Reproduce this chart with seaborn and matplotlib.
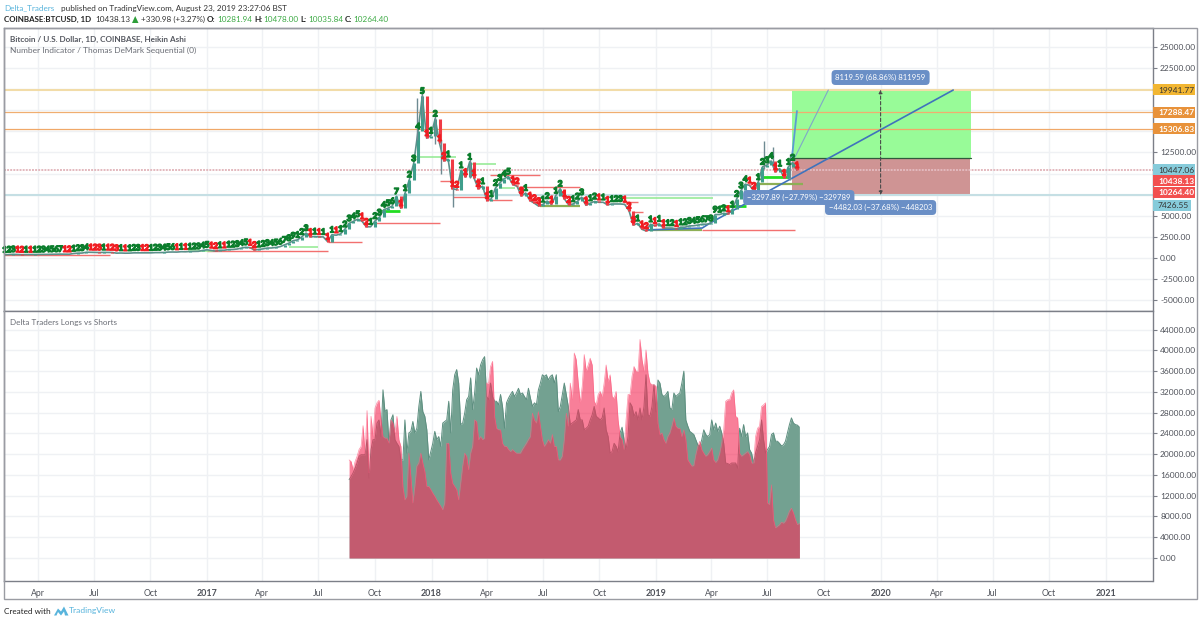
import matplotlib
matplotlib.use("Agg")
import matplotlib.pyplot as plt
import matplotlib.dates as mdates
import matplotlib.patheffects as pe
from matplotlib.patches import Rectangle, Polygon
import numpy as np
import pandas as pd
import seaborn as sns

# Weekly BTCUSD closes, Feb 2016 to Aug 2019
price_close = [
    375, 405, 438, 420, 395, 412, 408, 416, 417, 425, 430, 445, 450, 460, 455, 445, 530,
    575, 585, 685, 670, 660, 650, 665, 660, 650, 575, 590, 570, 575, 610, 610, 605, 600,
    610, 640, 640, 655, 700, 710, 700, 745, 735, 770, 775, 790, 900,
    970, 900, 820, 920, 915, 1010, 1010, 1060, 1180, 1270, 1230, 950, 1020,
    1080, 1180, 1190, 1250, 1350, 1560, 1760, 2050, 2150, 2500, 2950, 2500, 2550,
    2500, 2500, 1950, 2750, 2700, 2850, 3400, 4100, 4350, 4600, 4350, 3700, 3700,
    4380, 4800, 5700, 5900, 6150, 7300, 5900, 7700, 9300, 11200, 15000, 19200, 14200, 14500,
    16500, 13600, 11500, 11700, 8200, 8100, 10400, 9600, 11400, 9500, 8200, 8500,
    6800, 7000, 8300, 8900, 9400, 9650, 8700, 8500, 7350, 7700, 6800, 6500, 6150,
    6350, 6750, 6350, 7400, 8200, 7000, 6300, 6400, 6700, 7200, 6250, 6500, 6700, 6600,
    6600, 6300, 6400, 6400, 6400, 6350, 5600, 3900, 4100, 3400, 3200, 4000, 3800,
    4050, 3550, 3550, 3550, 3450, 3650, 3650, 3800, 3820, 3900, 4000, 4000, 4100,
    5150, 5150, 5300, 5200, 5750, 7000, 8000, 8750, 8600, 7950, 9000, 10800, 11000,
    11500, 10200, 10600, 9500, 10800, 11300, 10400,
]
wick_dates = ["2017-12-08", "2017-12-17", "2018-01-07", "2018-01-16", "2018-02-05", "2018-03-05", "2019-06-26", "2019-07-10", "2019-08-06"]
wick_low = [14000, 16500, 13500, 10000, 6000, 9500, 10500, 10800, 9200]
wick_high = [19000, 19900, 17200, 14000, 8500, 11800, 13900, 13100, 12300]

# Daily-sampled longs and shorts, in thousands
longs_shorts_start, longs_shorts_end = "2017-08-20", "2019-08-22"
shorts_k = [
    18.9, 18.6, 17.0, 18.6, 19.6, 20.9, 21.5, 25.5, 20.2, 28.4, 16.4, 27.3, 23.4, 28.9, 29.9, 30.4,
    26.6, 23.4, 23.1, 23.1, 22.1, 26.6, 26.0, 24.1, 27.3, 22.8, 21.5, 13.8, 11.2, 11.9, 20.2, 15.7,
    10.6, 13.8, 17.7, 18.3, 20.2, 18.3, 16.7, 13.8, 13.8, 13.2, 12.5, 11.9, 11.2, 10.6, 10.0, 9.3,
    10.6, 22.1, 22.1, 16.4, 14.4, 13.8, 13.2, 11.2, 14.4, 17.7, 20.2, 19.6, 17.0, 20.2, 21.5, 26.6,
    26.3, 22.8, 23.4, 22.8, 23.1, 33.7, 33.7, 36.9, 37.9, 27.3, 25.0, 24.7, 24.7, 22.1, 21.5, 21.5,
    20.9, 20.5, 20.9, 20.5, 20.2, 20.2, 20.2, 20.9, 21.5, 22.1, 22.8, 23.4, 27.9, 26.6, 26.0, 28.2,
    25.4, 22.8, 21.5, 22.1, 22.8, 22.1, 23.8, 21.5, 21.5, 18.9, 18.9, 19.6, 22.8, 27.9, 25.4, 33.7,
    30.5, 39.5, 38.2, 33.7, 29.9,
    33.1, 39.2, 36.0, 37.2, 38.5, 37.2, 30.2, 29.5, 31.5, 32.1, 31.1, 33.7, 37.2, 34.0, 35.3, 31.1,
    30.8, 32.1, 26.6, 23.4, 22.8, 20.9, 26.6, 31.5, 31.5, 35.0, 36.9, 36.0, 36.0, 42.1, 38.2, 36.0,
    40.1, 35.6, 33.7, 33.4, 33.4, 33.1, 26.0, 23.8, 24.1, 22.8, 22.1, 23.4, 24.1, 25.4, 27.0, 25.4,
    25.0, 25.0, 23.4, 24.7, 22.8, 18.9, 18.3, 17.7, 17.8, 19.9, 21.5, 22.5, 20.9, 20.2, 19.6, 19.9,
    20.5, 21.2, 18.9, 18.4, 18.9, 20.2, 22.1, 24.7, 30.2, 30.5, 30.5, 31.8, 32.4, 27.3, 27.0, 20.2,
    19.6, 19.9, 20.2, 20.5, 19.9, 18.3, 18.3, 23.4, 25.0, 25.4, 29.2, 29.5, 29.9, 10.6, 10.3, 14.1,
    7.4, 5.8, 6.1, 6.4, 6.9, 6.7, 7.1, 8.0, 9.0, 9.6, 8.7, 7.4, 6.4, 6.7,
]
longs_k = [
    15.1, 15.7, 16.4, 17.3, 18.3, 19.6, 19.9, 19.9, 19.9, 22.8, 15.4, 20.9, 22.8, 22.8, 26.0, 26.6,
    23.4, 32.4, 28.2, 28.6, 22.1, 26.6, 27.6, 22.8, 22.1, 21.5, 18.9, 18.9, 26.6, 20.2, 24.1, 24.4,
    26.3, 24.1, 25.0, 29.2, 32.1, 28.2, 27.3, 24.7, 18.9, 20.5, 22.1, 24.4, 22.8, 23.4, 21.5, 26.0,
    26.3, 26.6, 30.2, 24.1, 32.4, 35.3, 36.3, 33.7, 25.7, 26.0, 27.9, 30.5, 31.1, 34.7, 28.6, 31.8,
    36.6, 35.3, 37.2, 38.2, 38.8, 31.1, 30.5, 33.7, 31.1, 30.2, 30.2, 29.5, 31.5, 29.2, 25.0, 29.9,
    30.8, 31.5, 32.1, 31.1, 31.8, 32.7, 31.5, 31.8, 31.1, 30.5, 32.7, 30.8, 29.2, 29.9, 29.5, 32.4,
    33.7, 35.3, 35.0, 35.3, 34.3, 35.0, 35.3, 33.7, 35.3, 28.2, 29.2, 31.5, 33.7, 31.5, 29.2, 25.7,
    26.0, 26.3, 26.6, 28.6, 26.6,
    26.6, 24.7, 25.0, 25.4, 26.6, 27.6, 29.2, 27.3, 27.0, 26.6, 27.0, 28.9, 24.7, 23.4, 20.2, 20.5,
    22.1, 21.5, 20.5, 24.1, 25.2, 22.8, 20.9, 23.4, 29.9, 29.2, 27.3, 28.2, 26.6, 28.9, 26.6, 29.2,
    35.3, 27.6, 27.3, 29.2, 33.4, 28.2, 34.3, 33.7, 31.5, 31.1, 31.5, 32.1, 28.9, 28.6, 31.8, 31.1,
    31.5, 31.8, 33.7, 36.0, 26.6, 25.4, 24.4, 24.1, 23.8, 22.8, 21.8, 21.5, 22.8, 24.7, 23.8, 23.4,
    23.8, 26.6, 24.7, 26.0, 24.4, 25.4, 24.1, 22.1, 18.3, 18.2, 18.0, 18.3, 18.3, 18.3, 17.3, 25.0,
    23.4, 25.7, 23.4, 24.1, 20.9, 20.2, 18.3, 20.2, 21.5, 22.8, 26.6, 22.8, 20.2, 20.9, 21.5, 23.8,
    24.1, 22.5, 22.5, 22.1, 21.6, 21.8, 22.5, 24.1, 25.7, 27.0, 26.0, 25.7, 25.6, 25.2,
]

# Horizontal levels drawn by the sequential indicator: start, end, price
red_levels = [
    ("2016-02-06", "2016-07-27", 296), ("2017-01-01", "2017-07-16", 865), ("2017-07-16", "2017-09-10", 1837),
    ("2017-10-02", "2018-01-15", 4147), ("2018-01-15", "2018-02-04", 9123), ("2018-02-05", "2018-04-03", 7227),
    ("2018-04-05", "2018-05-12", 6872), ("2018-04-06", "2018-06-27", 9775), ("2018-05-22", "2018-08-31", 8460),
    ("2018-11-09", "2018-12-03", 6670), ("2018-11-24", "2018-12-10", 5450), ("2019-03-17", "2019-08-15", 3318),
]
light_green_levels = [
    ("2017-12-01", "2018-02-09", 11967), ("2018-03-05", "2018-04-16", 11185), ("2018-04-20", "2018-05-17", 8294),
    ("2018-11-09", "2019-04-04", 7109), ("2017-05-15", "2017-07-01", 1300), ("2016-12-01", "2017-01-10", 800),
]
strong_green_levels = [
    ("2017-10-10", "2017-11-11", 5569), ("2019-04-15", "2019-05-27", 6161), ("2019-06-22", "2019-08-05", 9600),
]
olive_levels = [
    ("2018-06-27", "2018-08-31", 6161), ("2018-12-16", "2019-03-17", 3318), ("2019-06-10", "2019-08-28", 8767),
]

# Price lines with their tags: value, fill, text colour, downward shift and width in pixels
line_levels = [19941.77, 17288.47, 15306.83]
line_colors = ["#F2DCA8", "#F0AE70", "#F0A868"]
tag_values = [19941.77, 17288.47, 15306.83, 10447.06, 10438.13, 10264.40, 7426.55]
tag_fills = ["#F2B632", "#E8923A", "#E8923A", "#86CBDA", "#F2504F", "#F2504F", "#86CBDA"]
tag_texts = ["#333333", "white", "white", "#333333", "white", "white", "#333333"]
tag_shift = [0, 0, 0, 0, 11, 21, 10]
tag_width = [42, 42, 42, 42, 42, 42, 38]

upper_ticks = [25000, 22500, 12500, 5000, 2500, 0, -2500, -5000]
upper_grid = list(range(-5000, 27500, 2500))
lower_ticks = list(range(0, 48000, 4000))

month_ticks = ["2016-04-01", "2016-07-01", "2016-10-01", "2017-01-01", "2017-04-01", "2017-07-01", "2017-10-01",
               "2018-01-01", "2018-04-01", "2018-07-01", "2018-10-01", "2019-01-01", "2019-04-01", "2019-07-01",
               "2019-10-01", "2020-01-01", "2020-04-01", "2020-07-01", "2020-10-01", "2021-01-01"]
month_labels = ["Apr", "Jul", "Oct", "2017", "Apr", "Jul", "Oct", "2018", "Apr", "Jul", "Oct", "2019", "Apr", "Jul",
                "Oct", "2020", "Apr", "Jul", "Oct", "2021"]

# Trend lines and the long-position box
main_trend_dates = ["2018-12-16", "2019-03-17", "2019-03-30", "2020-04-28"]
main_trend_prices = [3318, 3550, 4147, 19900]
steep_dates = ["2019-08-10", "2019-08-18"]
steep_prices = [11967, 17417]
fan_dates = ["2019-08-15", "2019-10-08"]
fan_prices = [11967, 19905]
box_start, box_end, box_mid = "2019-08-10", "2020-05-27", "2020-01-01"
box_top, box_entry, box_stop = 19941.77, 11890, 7464
callouts = [
    ("2020-01-01", 21386, "8119.59 (68.86%) 811959"),
    ("2019-08-21", 7168, "\u22123297.89 (\u221227.79%) \u2212329789"),
    ("2020-01-01", 5983, "\u22124482.03 (\u221237.68%) \u2212448203"),
]

sns.set_theme(style="white")
plt.rcParams["font.family"] = ["Lato", "DejaVu Sans"]

W, H = 1200, 623
fig = plt.figure(figsize=(W / 100, H / 100), dpi=100, facecolor="white")


def panel(left, top, right, bottom):
    return fig.add_axes([left / W, 1 - bottom / H, (right - left) / W, (bottom - top) / H])


ax_price = panel(4, 28, 1152.5, 311)
ax_flow = panel(4, 311, 1152.5, 581)

xmin, xmax = pd.Timestamp("2016-02-06"), pd.Timestamp("2021-03-18")
grid_color = "#EFF1F4"
axis_color = "#7C7F88"
label_color = "#4E5159"
month_dates = pd.to_datetime(month_ticks)
scale_font = 6.0

for ax in (ax_price, ax_flow):
    ax.set_xlim(xmin, xmax)
    ax.set_xticks(month_dates)
    ax.xaxis.grid(True, color=grid_color, lw=1)
    ax.yaxis.grid(True, color=grid_color, lw=1)
    ax.set_axisbelow(True)
    ax.yaxis.tick_right()
    for side, spine in ax.spines.items():
        spine.set_color(axis_color)
        spine.set_linewidth(1)
    ax.tick_params(axis="y", length=3, width=0.8, color=axis_color, labelsize=scale_font,
                   labelcolor=label_color, pad=2.5, right=True)

# Upper panel
ax_price.set_ylim(-6280, 27251)
ax_price.set_yticks(upper_grid)
ax_price.set_yticklabels([f"{v:.2f}" if v in upper_ticks else "" for v in upper_grid])
ax_price.tick_params(axis="x", length=0, labelbottom=False)

s, e = mdates.date2num(pd.Timestamp(box_start)), mdates.date2num(pd.Timestamp(box_end))
ax_price.add_patch(Rectangle((s, box_entry), e - s, box_top - box_entry, fc="#98FB98", ec="none", zorder=1))
ax_price.add_patch(Rectangle((s, box_stop), e - s - 1, box_entry - box_stop, fc="#CF9494", ec="none", zorder=1))
ax_price.plot(pd.to_datetime([box_start, box_end]), [box_entry, box_entry], color="#2F5A3C", lw=0.9, zorder=3)

for value, color in zip(line_levels, line_colors):
    ax_price.axhline(value, color=color, lw=1.5 if value == line_levels[0] else 0.9, zorder=2)
ax_price.axhline(10447.06, color="#E3B9BE", lw=1.4, ls=(0, (1, 0.6)), zorder=2)
ax_price.axhline(7426.55, color="#C5DFE4", lw=1.5, zorder=2)


def level_lines(levels, color, lw):
    for start, end, price in levels:
        ax_price.plot(pd.to_datetime([start, end]), [price, price], color=color, lw=lw,
                      solid_capstyle="butt", zorder=3)


level_lines(red_levels, "#F2706F", 1.0)
level_lines(light_green_levels, "#8FEA8F", 1.1)
level_lines(strong_green_levels, "#22DD22", 2.0)
level_lines(olive_levels, "#8DAF55", 1.6)

sns.lineplot(x=pd.to_datetime(main_trend_dates), y=main_trend_prices, ax=ax_price, color="#3F73BC", lw=1.2, zorder=4)
sns.lineplot(x=pd.to_datetime(steep_dates), y=steep_prices, ax=ax_price, color="#5C9BD2", lw=1.3, zorder=4)
sns.lineplot(x=pd.to_datetime(fan_dates), y=fan_prices, ax=ax_price, color="#7FA8C8", lw=0.8, zorder=4)

# Heikin Ashi candles reduced to weekly bodies, with TD-style run counts above
price_dates = pd.date_range("2016-02-07", periods=len(price_close), freq="7D")
closes = np.array(price_close, dtype=float)
sns.lineplot(x=price_dates, y=closes, ax=ax_price, color="#5C8F8A", lw=1.2, zorder=5)
up = np.diff(closes, prepend=closes[0]) >= 0
prev = np.r_[closes[0], closes[:-1]]
ax_price.vlines(price_dates[up], prev[up], closes[up], color="#3F9E8C", lw=2.2, zorder=5)
ax_price.vlines(price_dates[~up], prev[~up], closes[~up], color="#F03B45", lw=2.2, zorder=5)
ax_price.vlines(pd.to_datetime(wick_dates), wick_low, wick_high, color="#6E8A92", lw=1.0, zorder=5)

run = 0
for i, (d, c) in enumerate(zip(price_dates, closes)):
    if i and up[i] != up[i - 1]:
        run = 0
    run = run % 9 + 1
    digit_color = "#0B7D2C" if up[i] else "#F01C22"
    t = ax_price.annotate(str(run), xy=(d, c), xytext=(0, 3.5), textcoords="offset points", ha="center", va="center",
                          fontsize=6.0, fontweight="bold", color=digit_color, zorder=6, annotation_clip=True)
    t.set_path_effects([pe.withStroke(linewidth=1.0, foreground=digit_color)])

# Callouts for the long position
ax_price.annotate("", xy=(pd.Timestamp(box_mid), box_top), xytext=(pd.Timestamp(box_mid), box_stop),
                  arrowprops=dict(arrowstyle="<|-|>", color="#4A4A4A", lw=0.8, ls=(0, (3, 2)), mutation_scale=5,
                                  shrinkA=0, shrinkB=0), zorder=6)
for date, price, text in callouts:
    ax_price.text(pd.Timestamp(date), price, text, ha="center", va="center", fontsize=5.6, color="white", zorder=8,
                  bbox=dict(boxstyle="round,pad=0.5", fc="#6A8FC6", ec="none"))

# Lower panel
ax_flow.set_ylim(-4430, 47590)
ax_flow.set_yticks(lower_ticks)
ax_flow.set_yticklabels([f"{v:.2f}" for v in lower_ticks])
ax_flow.set_xticklabels(month_labels)
ax_flow.tick_params(axis="x", length=2, width=0.8, color=axis_color, labelsize=6.2, labelcolor=label_color, pad=3.5)
for lab, txt in zip(ax_flow.get_xticklabels(), month_labels):
    if txt.isdigit():
        lab.set_fontweight("bold")
        lab.set_fontsize(6.4)

flow_dates = pd.date_range(longs_shorts_start, longs_shorts_end, periods=len(shorts_k))
longs = np.array(longs_k) * 1000
shorts = np.array(shorts_k) * 1000
ax_flow.fill_between(flow_dates, 0, longs, color="#73A191", lw=0, zorder=2)
sns.lineplot(x=flow_dates, y=longs, ax=ax_flow, color="#5E8F80", lw=0.7, zorder=2.1)
ax_flow.fill_between(flow_dates, 0, shorts, color="#F5305A", alpha=0.62, lw=0, zorder=3)
sns.lineplot(x=flow_dates, y=shorts, ax=ax_flow, color="#FF5E80", lw=0.5, alpha=0.7, zorder=3.1)

for ax in (ax_price, ax_flow):
    ax.set_xlabel("")
    ax.set_ylabel("")

# Outer frame and the strip under the time axis
fig.add_artist(Rectangle((4 / W, 1 - 599 / H), 1193 / W, 571 / H, transform=fig.transFigure, fill=False,
                         ec="#9A9CA3", lw=1))

# Axis tags sit on the value scale and get pushed apart where they would collide
for value, fill, text_color, shift, width in zip(tag_values, tag_fills, tag_texts, tag_shift, tag_width):
    y_px = ax_price.transData.transform((0, value))[1] - shift
    fig.add_artist(Rectangle((1152.5 / W, (y_px - 5.5) / H), width / W, 11 / H, transform=fig.transFigure,
                             fc=fill, ec="none", zorder=5))
    fig.text(1158 / W, y_px / H, f"{value:.2f}", color=text_color, fontsize=scale_font, va="center_baseline", ha="left",
             fontweight="bold" if text_color == "white" else "normal", zorder=6)


def ftext(x, y, s, **kw):
    kw.setdefault("fontsize", 5.9)
    kw.setdefault("color", "#333333")
    fig.text(x / W, 1 - y / H, s, va="center", ha="left", **kw)


ftext(4, 8, "Delta_Traders", color="#58B4DC")
ftext(61, 8, "published on TradingView.com, August 23, 2019 23:27:06 BST")
ftext(4, 19.5, "COINBASE:BTCUSD, 1D", fontweight="bold", color="#222222", fontsize=5.7)
ftext(95, 19.5, "10438.13")
fig.add_artist(Polygon([[132 / W, 1 - 23 / H], [138.5 / W, 1 - 23 / H], [135.2 / W, 1 - 16 / H]],
                       transform=fig.transFigure, fc="#2E9E3A", ec="none"))
ftext(141, 19.5, "+330.98 (+3.27%)")
green = "#3DAA45"
for x_label, x_value, name, value in [(207, 217, "O:", "10281.94"), (254, 263, "H:", "10478.00"),
                                      (300, 308, "L:", "10035.84"), (345, 353, "C:", "10264.40")]:
    ftext(x_label, 19.5, name, fontweight="bold", color="#222222")
    ftext(x_value, 19.5, value, color=green)
ftext(10, 39, "Bitcoin / U.S. Dollar, 1D, COINBASE, Heikin Ashi", color="#555860", fontweight="bold")
ftext(10, 50.5, "Number Indicator / Thomas DeMark Sequential (0)", color="#6A6D75", fontsize=6.0)
ftext(10, 323, "Delta Traders Longs vs Shorts", color="#6A6D75")
ftext(4, 611, "Created with", color="#222222")
ftext(69, 611, "TradingView", color="#58B4DC", fontsize=6.1)
fig.add_artist(Polygon([[(54 + dx) / W, 1 - (615.5 + dy) / H] for dx, dy in
                        [(0, 0), (4, -7), (7, -4), (10, -9), (14.5, 0), (11, 0), (10, -4), (7, 0), (4, -3.5), (2.5, 0)]],
                       transform=fig.transFigure, fc="#58B4DC", ec="none"))

fig.savefig("out.png", dpi=100, facecolor="white")
